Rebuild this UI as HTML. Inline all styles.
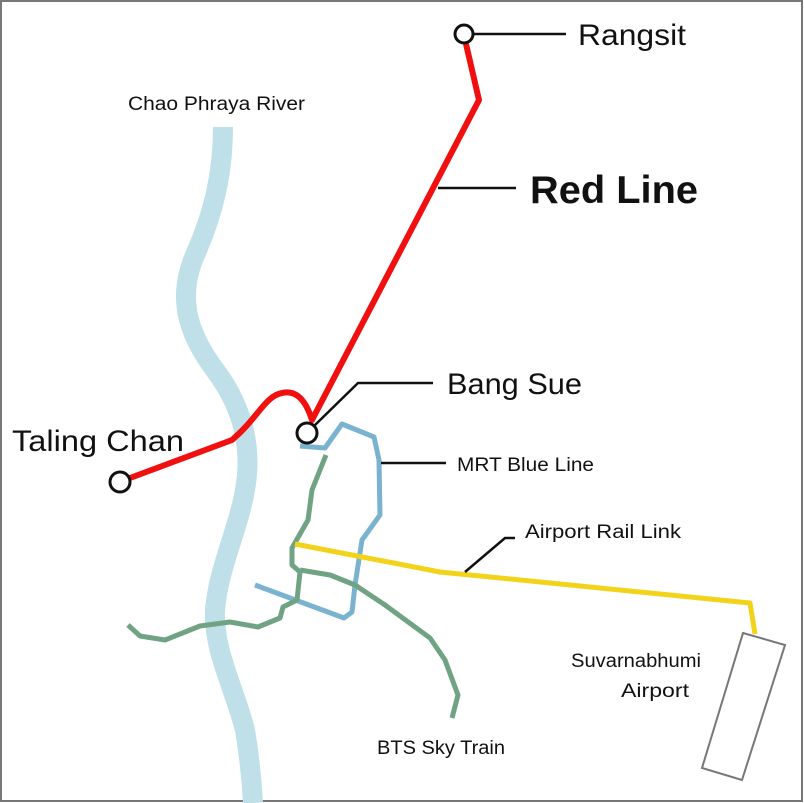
<!DOCTYPE html>
<html><head><style>
html,body{margin:0;padding:0;background:#fff;}
svg{display:block;}
text{font-family:"Liberation Sans",sans-serif;fill:#111;}
</style></head><body>
<svg width="804" height="803" viewBox="0 0 804 803">
<rect x="1" y="1" width="801" height="800" fill="#fff" stroke="#777" stroke-width="2"/>
<path d="M223,127 C223,170 215,210 195,255 C178,295 185,330 215,370 C245,410 252,450 245,490 C238,530 218,570 215,610 C213,650 235,690 245,730 C250,760 252,785 253,803" fill="none" stroke="#bfe0e8" stroke-width="20"/>
<path d="M300,446 L325,448 L342,424 L374,437 L379,460 L380,515 L362,540 L355,585 L352,612 L344,618 L255,585" fill="none" stroke="#7ab3cf" stroke-width="5" stroke-linejoin="round"/>
<path d="M326,455 L312,490 L308,520 L292,548 L292,565 L300,572 L297,600 L283,607 L280,618 L258,627 L230,622 L200,626 L165,640 L140,636 L128,625" fill="none" stroke="#6fa383" stroke-width="5" stroke-linejoin="round"/>
<path d="M300,570 L330,575 L355,585 L385,605 L430,638 L445,660 L458,695 L452,718" fill="none" stroke="#6fa383" stroke-width="5" stroke-linejoin="round"/>
<path d="M295,544 L440,572 L750,603 L755,634" fill="none" stroke="#f2d31a" stroke-width="5" stroke-linejoin="round"/>
<path d="M466,44 L479,100 L312,420 C305,398 295,390 282,393 C265,396 258,418 232,440 L130,478" fill="none" stroke="#f01010" stroke-width="6" stroke-linejoin="round"/>
<polygon points="743,633 785,645 742,780 702,768" fill="#fff" stroke="#777" stroke-width="2"/>
<g stroke="#111" stroke-width="2.5" fill="none">
<line x1="474" y1="34" x2="566" y2="34"/>
<line x1="438" y1="188" x2="516" y2="188"/>
<polyline points="314,426 358,383 433,383"/>
<line x1="381" y1="463" x2="446" y2="463"/>
<polyline points="465,572 505,538 515,538"/>
</g>
<g stroke="#111" stroke-width="3" fill="#fff">
<circle cx="464" cy="34" r="9"/>
<circle cx="307" cy="433" r="10"/>
<circle cx="120" cy="482" r="10"/>
</g>
<text x="578" y="45" font-size="30" textLength="108" lengthAdjust="spacingAndGlyphs">Rangsit</text>
<text x="530" y="203" font-size="39" font-weight="bold" textLength="168" lengthAdjust="spacingAndGlyphs">Red Line</text>
<text x="447" y="394" font-size="30" textLength="135" lengthAdjust="spacingAndGlyphs">Bang Sue</text>
<text x="12" y="451" font-size="30" textLength="172" lengthAdjust="spacingAndGlyphs">Taling Chan</text>
<text x="128" y="110" font-size="19" textLength="177" lengthAdjust="spacingAndGlyphs">Chao Phraya River</text>
<text x="457" y="471" font-size="19" textLength="137" lengthAdjust="spacingAndGlyphs">MRT Blue Line</text>
<text x="525" y="538" font-size="19" textLength="156" lengthAdjust="spacingAndGlyphs">Airport Rail Link</text>
<text x="571" y="667" font-size="19" textLength="130" lengthAdjust="spacingAndGlyphs">Suvarnabhumi</text>
<text x="621" y="697" font-size="19" textLength="68" lengthAdjust="spacingAndGlyphs">Airport</text>
<text x="377" y="754" font-size="19" textLength="128" lengthAdjust="spacingAndGlyphs">BTS Sky Train</text>
</svg>
</body></html>
